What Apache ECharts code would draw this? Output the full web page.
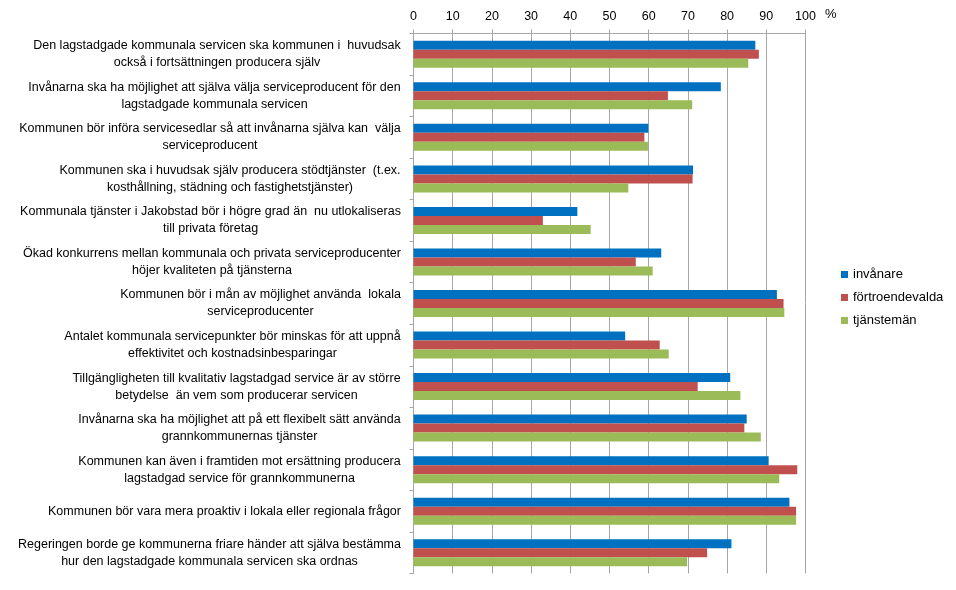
<!DOCTYPE html>
<html><head><meta charset="utf-8">
<script src="https://cdn.jsdelivr.net/npm/echarts@6/dist/echarts.min.js"></script>
<style>html,body{margin:0;padding:0;background:#fff}#c{width:956px;height:590px}</style>
</head><body><div id="c"></div>
<script>
const categories = [
  "Den lagstadgade kommunala servicen ska kommunen i  huvudsak\nockså i fortsättningen producera själv",
  "Invånarna ska ha möjlighet att själva välja serviceproducent för den\nlagstadgade kommunala servicen",
  "Kommunen bör införa servicesedlar så att invånarna själva kan  välja\nserviceproducent",
  "Kommunen ska i huvudsak själv producera stödtjänster  (t.ex.\nkosthållning, städning och fastighetstjänster)",
  "Kommunala tjänster i Jakobstad bör i högre grad än  nu utlokaliseras\ntill privata företag",
  "Ökad konkurrens mellan kommunala och privata serviceproducenter\nhöjer kvaliteten på tjänsterna",
  "Kommunen bör i mån av möjlighet använda  lokala\nserviceproducenter",
  "Antalet kommunala servicepunkter bör minskas för att uppnå\neffektivitet och kostnadsinbesparingar",
  "Tillgängligheten till kvalitativ lagstadgad service är av större\nbetydelse  än vem som producerar servicen",
  "Invånarna ska ha möjlighet att på ett flexibelt sätt använda\ngrannkommunernas tjänster",
  "Kommunen kan även i framtiden mot ersättning producera\nlagstadgad service för grannkommunerna",
  "Kommunen bör vara mera proaktiv i lokala eller regionala frågor",
  "Regeringen borde ge kommunerna friare händer att själva bestämma\nhur den lagstadgade kommunala servicen ska ordnas"
];
const seriesNames = ["invånare", "förtroendevalda", "tjänstemän"];
const invanare        = [87.2, 78.4, 59.9, 71.3, 41.8, 63.2, 92.7, 54.0, 80.8, 85.0, 90.6, 95.9, 81.1];
const fortroendevalda = [88.1, 64.9, 58.9, 71.2, 33.0, 56.7, 94.4, 62.8, 72.5, 84.4, 97.9, 97.6, 74.9];
const tjansteman      = [85.4, 71.1, 59.8, 54.8, 45.2, 61.0, 94.6, 65.1, 83.4, 88.6, 93.3, 97.6, 69.8];
const xMin = 0, xMax = 100, xStep = 10;
const unitLabel = "%";

const FONT_FAMILY = '"Liberation Sans", Arial, sans-serif';
const FONT_SIZE = 12.5;
const colors = ["#0070C0", "#C0504D", "#9BBB59"];

// measure label blocks so each multi-line label is centered inside a right-aligned block
const cv = document.createElement('canvas').getContext('2d');
cv.font = FONT_SIZE + 'px ' + FONT_FAMILY;
const rich = {};
categories.forEach((c, i) => {
  const w = Math.max(...c.split('\n').map(l => cv.measureText(l).width));
  rich['r' + i] = { width: Math.ceil(w) + 1, align: 'center', fontSize: FONT_SIZE, fontFamily: FONT_FAMILY, color: '#000', lineHeight: 17 };
});

const chart = echarts.init(document.getElementById('c'), null, { renderer: 'canvas' });
chart.setOption({
  animation: false,
  textStyle: { fontFamily: FONT_FAMILY },
  color: colors,
  grid: { left: 413.5, right: 150.5, top: 33.5, bottom: 16.5, containLabel: false },
  legend: {
    orient: 'vertical', left: 836, top: 263,
    icon: 'rect', itemWidth: 7, itemHeight: 7, itemGap: 10,
    textStyle: { fontSize: 13, color: '#000', fontFamily: FONT_FAMILY },
    data: seriesNames
  },
  xAxis: {
    type: 'value', position: 'top', min: xMin, max: xMax, interval: xStep,
    axisLine: { show: true, lineStyle: { color: '#A6A6A6' } },
    axisTick: { show: true, length: 4, lineStyle: { color: '#A6A6A6' } },
    axisLabel: { fontSize: 12.5, color: '#000', margin: 10, fontFamily: FONT_FAMILY },
    splitLine: { show: true, lineStyle: { color: '#A6A6A6', width: 1 } }
  },
  yAxis: {
    type: 'category', inverse: true, data: categories,
    axisLine: { show: true, lineStyle: { color: '#A6A6A6' } },
    axisTick: { show: true, length: 4, lineStyle: { color: '#A6A6A6' } },
    axisLabel: {
      margin: 12, align: 'right',
      formatter: (v, i) => v.split('\n').map(l => '{r' + i + '|' + l + '}').join('\n'),
      rich: rich
    }
  },
  graphic: [{
    type: 'text', left: 825, top: 8,
    style: { text: unitLabel, fontSize: 13, fill: '#000', fontFamily: FONT_FAMILY }
  }],
  series: [
    { name: seriesNames[0], type: 'bar', data: invanare, barGap: '0%', barCategoryGap: '35%' },
    { name: seriesNames[1], type: 'bar', data: fortroendevalda, barGap: '0%', barCategoryGap: '35%' },
    { name: seriesNames[2], type: 'bar', data: tjansteman, barGap: '0%', barCategoryGap: '35%' }
  ]
});
</script></body></html>
